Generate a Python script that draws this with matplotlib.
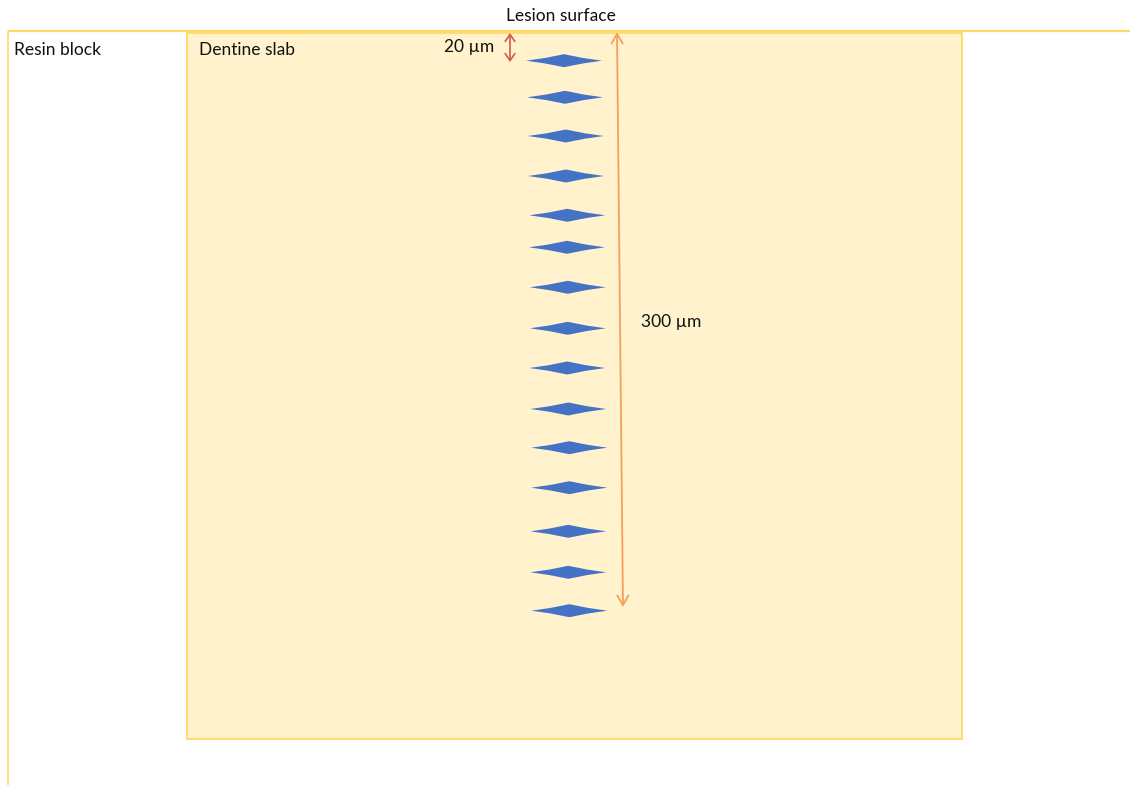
import matplotlib
matplotlib.use("Agg")
import matplotlib.pyplot as plt
from matplotlib.patches import Polygon, Rectangle, FancyArrowPatch

plt.rcParams['font.family'] = ['Lato', 'DejaVu Sans']

# Indentation (diamond) centres (canvas pixel units)
indent_x = [564, 565, 565.7, 566, 567.3, 567, 567.7, 567.7, 567.3, 568.3,
            569.3, 569.3, 568.3, 568.3, 569.3]
indent_y = [60.7, 97.3, 136, 176, 215.3, 247.3, 287.3, 328.3, 368, 409,
            447.7, 487.7, 531.3, 572.3, 610.7]
labels = {"surface": "Lesion surface", "resin": "Resin block",
          "slab": "Dentine slab", "small": "20 µm", "large": "300 µm"}

W, H = 1130, 785
fig = plt.figure(figsize=(W / 100, H / 100), dpi=100)
ax = fig.add_axes([0, 0, 1, 1])
ax.set_xlim(0, W)
ax.set_ylim(H, 0)
ax.axis('off')

edge = '#FFD966'
# Resin block outline
ax.plot([8, W], [31, 31], color=edge, lw=1.6, solid_capstyle='butt', zorder=3)
ax.plot([8, 8], [31, H], color=edge, lw=1.2, solid_capstyle='butt', zorder=3)

# Dentine slab
ax.add_patch(Rectangle((187, 33), 962 - 187, 739 - 33, facecolor='#FFF2CC',
                       edgecolor=edge, lw=1.3, zorder=2))

# Indentations (slightly concave-sided diamonds)
dw, dh = 76, 13
for x, y in zip(indent_x, indent_y):
    pts = [(x - dw / 2, y), (x - dw / 4, y - dh * 0.21), (x, y - dh / 2),
           (x + dw / 4, y - dh * 0.21), (x + dw / 2, y),
           (x + dw / 4, y + dh * 0.21), (x, y + dh / 2), (x - dw / 4, y + dh * 0.21)]
    ax.add_patch(Polygon(pts, closed=True, facecolor='#4472C4', edgecolor='none', zorder=4))

# Arrows
ax.add_patch(FancyArrowPatch((510, 33), (510, 62), arrowstyle='<->,head_length=5,head_width=3.5',
                             color='#D6584A', lw=1.2, shrinkA=0, shrinkB=0, zorder=5))
ax.add_patch(FancyArrowPatch((617, 32), (623, 607), arrowstyle='<->,head_length=7,head_width=4',
                             color='#F5A05A', lw=1.3, shrinkA=0, shrinkB=0, zorder=5))

fs = 12.5
tc = '#111111'
ax.text(561, 16, labels["surface"], ha='center', va='center', fontsize=fs, color=tc)
ax.text(14, 50, labels["resin"], ha='left', va='center', fontsize=fs, color=tc)
ax.text(199, 50, labels["slab"], ha='left', va='center', fontsize=fs, color=tc)
ax.text(494, 47, labels["small"], ha='right', va='center', fontsize=fs, color=tc)
ax.text(641, 322, labels["large"], ha='left', va='center', fontsize=fs, color=tc)

fig.savefig('out.png', dpi=100, facecolor='white')
